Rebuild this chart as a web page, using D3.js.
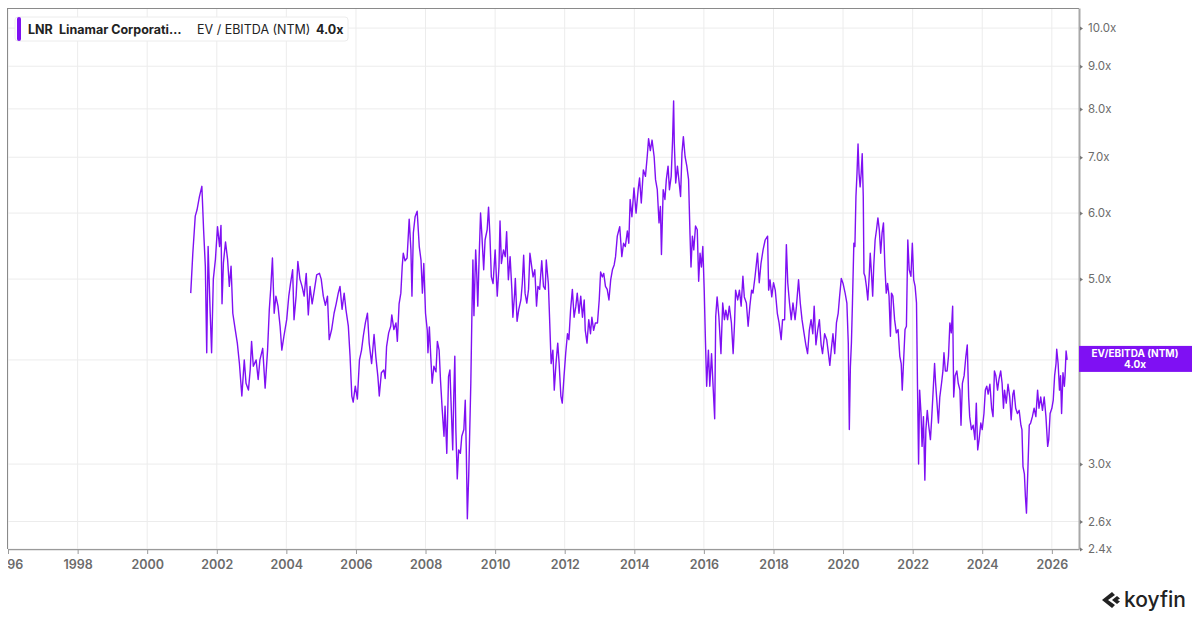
<!DOCTYPE html>
<html>
<head>
<meta charset="utf-8">
<script src="https://cdn.jsdelivr.net/npm/d3@7"></script>
<style>
  body { margin: 0; background: #fff; }
  svg { display: block; font-family: Inter, "Noto Sans", sans-serif; }
</style>
</head>
<body>
<div id="graphicContainer"></div>
<script>
// LNR EV / EBITDA (NTM) (decimal year, multiple)
var years = [
  2001.25,2001.31,2001.38,2001.43,2001.50,2001.57,2001.62,2001.67,2001.71,2001.75,2001.81,2001.85,2001.90,2001.96,
  2002.02,2002.08,2002.12,2002.15,2002.19,2002.25,2002.31,2002.36,2002.41,2002.46,2002.53,2002.59,2002.65,2002.72,2002.79,2002.84,2002.91,2002.96,
  2003.00,2003.05,2003.13,2003.19,2003.24,2003.32,2003.39,2003.46,2003.51,2003.55,2003.60,2003.65,2003.70,2003.76,2003.82,2003.87,2003.93,
  2004.01,2004.07,2004.12,2004.18,2004.22,2004.28,2004.33,2004.39,2004.45,2004.51,2004.57,2004.63,2004.68,2004.74,2004.79,2004.87,2004.95,
  2005.00,2005.06,2005.12,2005.18,2005.23,2005.30,2005.37,2005.43,2005.49,2005.54,2005.60,2005.66,2005.71,2005.78,2005.83,2005.88,2005.92,2005.98,
  2006.04,2006.10,2006.16,2006.21,2006.27,2006.33,2006.38,2006.45,2006.52,2006.57,2006.63,2006.67,2006.73,2006.80,2006.84,2006.88,2006.94,
  2007.00,2007.03,2007.09,2007.15,2007.19,2007.24,2007.29,2007.33,2007.36,2007.41,2007.47,2007.53,2007.58,2007.61,2007.65,2007.70,2007.76,2007.82,2007.87,2007.91,2007.95,
  2008.00,2008.05,2008.07,2008.11,2008.15,2008.19,2008.24,2008.30,2008.34,2008.39,2008.43,2008.48,2008.53,2008.56,2008.61,2008.66,2008.70,2008.74,2008.78,2008.81,2008.84,2008.87,2008.91,2008.95,
  2009.00,2009.04,2009.10,2009.14,2009.17,2009.20,2009.24,2009.30,2009.33,2009.36,2009.39,2009.44,2009.47,2009.50,2009.54,2009.58,2009.62,2009.67,2009.71,2009.77,2009.81,2009.85,2009.89,2009.94,
  2010.00,2010.06,2010.11,2010.14,2010.18,2010.24,2010.29,2010.33,2010.38,2010.43,2010.48,2010.51,2010.56,2010.58,2010.63,2010.68,2010.74,2010.78,2010.82,2010.86,2010.91,2010.96,
  2011.00,2011.05,2011.09,2011.14,2011.19,2011.23,2011.28,2011.34,2011.39,2011.44,2011.47,2011.53,2011.57,2011.61,2011.66,2011.70,2011.75,2011.80,2011.84,2011.89,2011.93,2011.98,
  2012.03,2012.08,2012.12,2012.17,2012.22,2012.27,2012.32,2012.36,2012.41,2012.46,2012.51,2012.56,2012.59,2012.64,2012.69,2012.74,2012.78,2012.83,2012.88,2012.94,2012.99,
  2013.03,2013.08,2013.12,2013.17,2013.22,2013.27,2013.32,2013.37,2013.42,2013.46,2013.51,2013.58,2013.64,2013.69,2013.74,2013.80,2013.84,2013.88,2013.93,2013.99,
  2014.05,2014.11,2014.15,2014.20,2014.26,2014.32,2014.37,2014.41,2014.46,2014.51,2014.57,2014.61,2014.66,2014.71,2014.75,2014.78,2014.83,2014.88,2014.92,2014.97,
  2015.01,2015.06,2015.10,2015.13,2015.15,2015.19,2015.24,2015.28,2015.33,2015.37,2015.41,2015.46,2015.51,2015.56,2015.60,2015.63,2015.67,2015.71,2015.76,2015.81,2015.85,2015.89,2015.93,2015.97,
  2016.01,2016.04,2016.08,2016.13,2016.17,2016.22,2016.27,2016.31,2016.34,2016.38,2016.43,2016.49,2016.54,2016.59,2016.63,2016.68,2016.73,2016.79,2016.84,2016.88,2016.91,2016.97,
  2017.02,2017.07,2017.12,2017.16,2017.22,2017.27,2017.32,2017.37,2017.41,2017.47,2017.54,2017.59,2017.64,2017.70,2017.76,2017.83,2017.86,2017.90,2017.95,
  2018.00,2018.05,2018.11,2018.16,2018.22,2018.26,2018.32,2018.37,2018.41,2018.46,2018.51,2018.56,2018.62,2018.66,2018.72,2018.77,2018.82,2018.88,2018.93,2018.98,
  2019.03,2019.08,2019.13,2019.17,2019.22,2019.27,2019.32,2019.37,2019.41,2019.47,2019.53,2019.58,2019.62,2019.66,2019.71,2019.76,2019.81,2019.86,2019.90,2019.95,
  2020.00,2020.06,2020.11,2020.15,2020.18,2020.21,2020.24,2020.27,2020.31,2020.34,2020.37,2020.40,2020.43,2020.46,2020.49,2020.52,2020.55,2020.58,2020.60,2020.63,2020.67,2020.71,2020.75,2020.78,2020.82,2020.85,2020.88,2020.92,2020.96,
  2021.00,2021.04,2021.08,2021.12,2021.16,2021.20,2021.24,2021.28,2021.32,2021.36,2021.39,2021.43,2021.48,2021.53,2021.58,2021.63,2021.67,2021.70,2021.74,2021.78,2021.82,2021.86,2021.90,2021.95,2021.99,
  2022.03,2022.07,2022.11,2022.14,2022.17,2022.20,2022.24,2022.27,2022.31,2022.35,2022.38,2022.42,2022.46,2022.51,2022.55,2022.60,2022.63,2022.66,2022.70,2022.74,2022.78,2022.83,2022.87,2022.90,2022.94,2022.99,
  2023.03,2023.07,2023.11,2023.15,2023.18,2023.22,2023.27,2023.31,2023.36,2023.39,2023.43,2023.48,2023.53,2023.57,2023.61,2023.64,2023.69,2023.74,2023.79,2023.83,2023.87,2023.91,2023.96,
  2024.00,2024.05,2024.09,2024.13,2024.17,2024.22,2024.27,2024.31,2024.35,2024.39,2024.44,2024.48,2024.53,2024.57,2024.61,2024.64,2024.69,2024.74,2024.79,2024.83,2024.88,2024.91,2024.96,
  2025.01,2025.06,2025.11,2025.14,2025.17,2025.21,2025.24,2025.27,2025.31,2025.35,2025.39,2025.44,2025.49,2025.54,2025.59,2025.63,2025.68,2025.73,2025.78,2025.83,2025.88,2025.91,2025.95,
  2026.00,2026.04,2026.08,2026.12,2026.14,2026.18,2026.22,2026.25,2026.28,2026.32,2026.36,2026.38,2026.41,2026.44
]
var evEbitda = [
  4.81,5.37,5.95,6.05,6.28,6.46,5.73,5.18,4.08,5.47,4.55,4.08,5.0,5.28,
  5.78,5.47,5.8,4.67,5.23,5.54,5.28,4.9,5.18,4.55,4.35,4.19,3.96,3.62,4.0,3.75,3.68,3.89,
  4.21,3.93,4.0,3.79,4.0,4.13,3.7,4.11,4.6,4.86,5.3,4.55,4.77,4.64,4.39,4.11,4.27,
  4.47,4.77,4.94,5.13,4.47,4.77,5.25,5.0,4.9,4.77,5.08,4.53,4.9,4.67,4.81,5.06,5.08,
  5.0,4.77,4.65,4.77,4.23,4.35,4.55,4.67,4.81,4.9,4.6,4.81,4.6,4.39,4.04,3.62,3.56,3.72,
  3.59,4.0,4.11,4.27,4.43,4.55,4.19,3.96,4.29,4.04,3.82,3.62,3.86,3.89,3.8,4.15,4.31,
  4.39,4.53,4.35,4.43,4.21,4.67,4.81,5.18,5.37,5.26,5.3,5.9,5.42,4.77,5.68,5.94,6.03,5.47,5.27,4.81,5.22,
  4.55,4.34,4.08,4.38,4.04,3.75,3.93,3.87,4.21,4.11,3.78,3.48,3.24,3.52,3.09,3.82,3.89,3.48,3.12,3.62,4.04,3.3,2.88,3.12,
  3.09,3.24,3.3,3.58,3.12,2.58,2.91,3.75,4.5,5.27,4.52,5.42,5.08,4.64,5.32,6.0,5.63,5.13,5.57,5.73,6.1,5.63,5.03,4.94,
  5.42,4.77,5.18,5.87,5.22,5.42,5.32,5.7,4.99,5.32,4.86,4.5,4.81,5.01,4.45,4.6,4.72,4.94,5.34,4.81,4.68,4.86,
  5.37,5.18,5.03,5.13,4.64,4.9,4.86,5.26,4.9,4.86,5.27,4.94,4.43,3.96,4.11,3.68,3.96,4.19,3.96,3.62,3.55,3.82,
  4.08,4.3,4.23,4.6,4.86,4.5,4.64,4.81,4.55,4.77,4.5,4.72,4.34,4.19,4.47,4.3,4.5,4.34,4.43,4.43,4.72,
  5.1,5.03,5.08,4.9,4.86,4.72,4.99,5.13,5.2,5.32,5.63,5.78,5.32,5.52,5.47,5.71,5.52,6.23,5.94,6.43,
  6.0,6.4,6.61,6.17,6.76,6.64,7.01,7.37,7.13,7.34,7.01,6.58,6.4,5.84,6.11,5.35,6.4,6.23,6.58,6.83,
  6.4,6.64,7.34,8.18,7.27,6.52,6.83,6.58,6.28,7.08,7.41,7.01,6.83,6.58,5.68,5.17,5.63,5.42,5.79,5.73,4.97,5.37,5.17,5.47,
  4.85,4.3,3.72,4.11,3.72,4.07,3.68,3.4,4.51,4.76,4.51,4.07,4.68,4.47,4.59,4.47,4.64,4.43,4.07,4.43,4.85,4.72,
  4.85,4.64,5.04,4.76,4.68,4.39,4.64,4.85,4.81,5.04,5.37,4.95,5.22,5.42,5.57,5.63,4.85,4.99,4.76,
  4.95,4.85,4.55,4.43,4.23,4.47,4.47,5.5,4.95,4.68,4.47,4.68,4.47,4.64,4.99,4.68,4.47,4.3,4.17,4.07,
  4.34,4.47,4.3,4.64,4.17,4.34,4.47,4.17,4.07,4.3,4.23,4.07,3.94,4.11,4.3,4.07,4.43,4.55,4.76,5.01,
  4.94,4.81,4.68,4.19,3.3,3.92,4.19,4.68,5.52,5.47,6.28,6.69,7.26,6.69,6.45,6.69,7.07,6.28,5.08,5.04,4.9,4.72,5.04,5.37,5.04,4.77,5.18,5.57,5.73,
  5.92,5.73,5.37,5.68,5.84,5.18,4.81,4.94,4.77,4.27,4.81,4.77,4.47,4.31,4.35,4.04,3.96,3.68,4.0,4.35,4.39,5.57,5.13,5.04,5.52,
  4.99,4.9,4.68,3.68,3.0,3.68,3.45,3.15,3.42,2.87,3.3,3.48,3.34,3.21,3.42,3.75,3.96,3.75,3.55,3.36,3.61,3.75,3.88,4.08,3.88,3.88,
  4.04,4.43,4.31,4.64,3.61,3.83,3.88,3.75,3.68,3.34,3.75,3.83,4.04,4.17,3.61,3.42,3.3,3.34,3.21,3.55,3.12,3.21,3.36,
  3.3,3.45,3.68,3.72,3.64,3.74,3.5,3.42,3.88,3.83,3.68,3.79,3.88,3.75,3.5,3.68,3.55,3.74,3.61,3.39,3.64,3.68,3.5,
  3.45,3.48,3.34,3.3,2.98,2.92,2.74,2.62,2.95,3.34,3.36,3.42,3.5,3.42,3.68,3.5,3.61,3.48,3.61,3.42,3.15,3.21,3.45,
  3.5,3.58,3.83,3.96,4.12,3.96,3.68,3.83,3.45,3.86,3.72,3.83,4.1,4.0
]
var yTickValues = [2.373, 2.56, 3, 4, 5, 6, 7, 8, 9, 10]
var ticker = "LNR"
var companyName = "Linamar Corporati\u2026"
var metricName = "EV / EBITDA (NTM)"
var lastLabel = "4.0x"

var W = 1200, H = 620
var m = { left: 8, right: 1079, top: 8, bottom: 549 }
var purple = "#7f10f3"

function toDate(yv) {
  var yr = Math.floor(yv)
  var a = Date.UTC(yr, 0, 1), b = Date.UTC(yr + 1, 0, 1)
  return new Date(a + (yv - yr) * (b - a))
}

var data = years.map(function (yv, i) {
  return { date: toDate(yv), value: evEbitda[i] }
})

var x = d3.scaleUtc()
  .domain([new Date(Date.UTC(1996, 0, 1)), new Date(Date.UTC(2026, 9, 13))])
  .range([m.left, m.right])

var y = d3.scaleLog()
  .domain([2.373, 10.57])
  .range([m.bottom, m.top])

const svg = d3.select("#graphicContainer")
  .append("svg")
  .attr("width", W)
  .attr("height", H)

svg.append("rect").attr("width", W).attr("height", H).attr("fill", "#fff")

svg.append("clipPath").attr("id", "plotclip")
  .append("rect").attr("x", m.left).attr("y", 0).attr("width", W - m.left).attr("height", H)

var xTicks = x.ticks(d3.utcYear.every(2))
var last = data[data.length - 1]

// grid
svg.append("g").selectAll("line")
  .data(xTicks)
  .join("line")
  .attr("x1", d => x(d)).attr("x2", d => x(d))
  .attr("y1", m.top).attr("y2", m.bottom)
  .attr("stroke", "#ececec")

svg.append("g").selectAll("line")
  .data(yTickValues)
  .join("line")
  .attr("x1", m.left).attr("x2", m.right)
  .attr("y1", d => y(d)).attr("y2", d => y(d))
  .attr("stroke", "#ececec")

// frame
svg.append("line").attr("x1", m.left).attr("x2", m.right).attr("y1", m.top + 0.5).attr("y2", m.top + 0.5).attr("stroke", "#8a8a8a")
svg.append("line").attr("x1", m.left - 0.5).attr("x2", m.left - 0.5).attr("y1", m.top).attr("y2", m.bottom).attr("stroke", "#8a8a8a")

// x axis
var xAxis = svg.append("g")
  .attr("transform", "translate(0," + m.bottom + ")")
  .attr("clip-path", "url(#plotclip)")
  .call(d3.axisBottom(x).tickValues(xTicks).tickFormat(d3.utcFormat("%Y")).tickSize(5).tickSizeOuter(0))
xAxis.select(".domain").attr("stroke", "#9a9a9a").attr("stroke-width", 1.5)
xAxis.selectAll(".tick line").attr("stroke", "#9a9a9a")
xAxis.selectAll(".tick text")
  .attr("fill", "#6b6b6b")
  .attr("font-size", 12.5)
  .attr("font-weight", 600)
  .attr("font-family", "Inter, sans-serif")
  .attr("dy", "0.95em")

// y axis on right
var yAxis = svg.append("g")
  .attr("transform", "translate(" + m.right + ",0)")
  .call(d3.axisRight(y).tickValues(yTickValues).tickFormat(d => d3.format(".1f")(d) + "x").tickSize(0).tickPadding(9))
yAxis.select(".domain").attr("stroke", "#a8a8a8").attr("stroke-width", 2)
yAxis.selectAll(".tick text")
  .attr("fill", "#6b6b6b")
  .attr("font-size", 11.5)
  .attr("font-family", "Inter, sans-serif")
// tick label hidden behind the last-value tag
yAxis.selectAll(".tick").filter(d => Math.abs(y(d) - y(last.value)) < 14).select("text").remove()
yAxis.selectAll(".tick").append("path")
  .attr("d", "M1,-2L4,0L1,2Z")
  .attr("fill", "#777")

// series
var line = d3.line()
  .x(d => x(d.date))
  .y(d => y(d.value))

svg.append("path")
  .datum(data)
  .attr("fill", "none")
  .attr("stroke", purple)
  .attr("stroke-width", 1.4)
  .attr("stroke-linejoin", "round")
  .attr("d", line)

// last value label
var ly = y(last.value)
var lab = svg.append("g").attr("transform", "translate(" + m.right + "," + ly + ")")
lab.append("rect")
  .attr("x", 0).attr("y", -14).attr("width", 113).attr("height", 26)
  .attr("fill", purple)
lab.append("text")
  .attr("x", 56).attr("y", -3)
  .attr("text-anchor", "middle")
  .attr("fill", "#fff").attr("font-size", 10).attr("font-weight", 700)
  .text("EV/EBITDA (NTM)")
lab.append("text")
  .attr("x", 56).attr("y", 8.5)
  .attr("text-anchor", "middle")
  .attr("fill", "#fff").attr("font-size", 10).attr("font-weight", 700)
  .text(lastLabel)

// legend
var lg = svg.append("g").attr("transform", "translate(15,17)")
lg.append("rect")
  .attr("width", 333).attr("height", 24).attr("rx", 3)
  .attr("fill", "#fff").attr("stroke", "#ececec")
lg.append("rect")
  .attr("x", 2).attr("y", 0).attr("width", 4).attr("height", 24).attr("rx", 2)
  .attr("fill", purple)
var lt = lg.append("text").attr("y", 17).attr("font-size", 12.5).attr("fill", "#222")
lt.append("tspan").attr("x", 13).attr("font-weight", 700).text(ticker)
lt.append("tspan").attr("x", 44).attr("font-weight", 700).text(companyName)
lt.append("tspan").attr("x", 182).attr("font-weight", 400).text(metricName)
lt.append("tspan").attr("x", 301).attr("font-weight", 700).text(lastLabel)

// koyfin logo
var logo = svg.append("g").attr("transform", "translate(1102,592)")
logo.append("path")
  .attr("d", "M10,0L0,8L10,16L13,13L6,8L13,3Z M15,4L10,8L15,12L18,9.5L15.5,8L18,6.5Z")
  .attr("fill", "#222")
logo.append("text")
  .attr("x", 22).attr("y", 15)
  .attr("font-size", 21).attr("font-weight", 500)
  .attr("fill", "#222")
  .text("koyfin")
</script>
</body>
</html>
